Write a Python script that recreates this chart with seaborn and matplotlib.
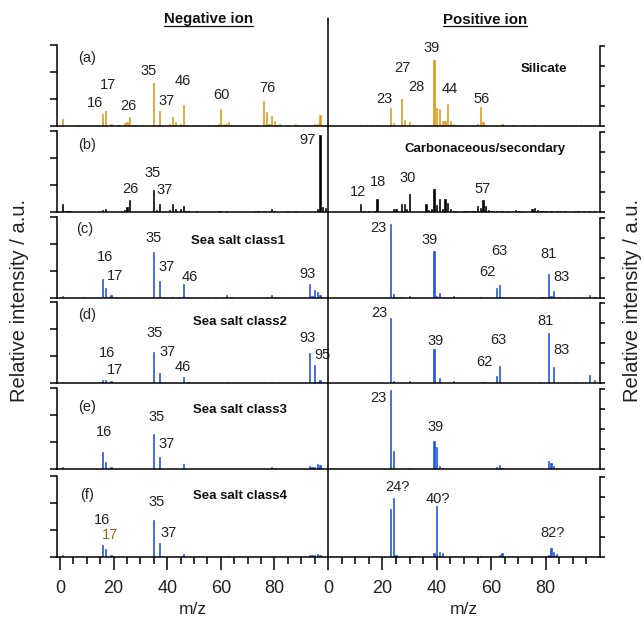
import numpy as np
import pandas as pd
import matplotlib
matplotlib.use("Agg")
import matplotlib.pyplot as plt
import seaborn as sns
from matplotlib.lines import Line2D
from matplotlib.ticker import FixedLocator

sns.set_theme(style="white")
plt.rcParams['font.family'] = ['Liberation Sans', 'DejaVu Sans']

# ---------------- data (relative intensity, a.u.) ----------------
neg_a_mz = [1, 6, 7, 8, 13, 14, 16, 17, 19, 22, 24, 25, 26, 27, 28, 29, 31, 35, 36, 37, 41, 42, 43, 45, 46, 47, 48, 50, 55,
            58, 59, 60, 61, 62, 63, 64, 66, 67, 68, 70, 72, 73, 74, 76, 77, 78, 79, 80, 81, 82, 85, 88, 89, 91, 93, 95, 96, 97, 98, 99]
neg_a_int = [7, 1, 1, 1, 0.8, 1, 11.7, 15.3, 2, 1, 3, 4, 9.3, 1, 1, 1, 1, 43.3, 1.2, 15, 2, 8.7, 4, 2, 21, 1, 1, 0.8, 0.8,
             1, 2, 17, 2, 2, 4, 1, 0.8, 0.8, 0.8, 0.8, 1, 1, 1, 25.3, 14, 2, 10, 5.3, 1, 2, 0.8, 1.5, 1, 0.8, 0.8, 2, 2, 11, 1, 1]
pos_a_mz = [12, 14, 16, 18, 23, 24, 27, 28, 30, 31, 36, 39, 40, 41, 42, 43, 44, 45, 46, 48, 55, 56, 57, 58, 62, 64, 68, 72,
            75, 76, 80, 82, 84, 86, 87, 88, 90, 91, 93, 95, 97, 99]
pos_a_int = [0.8, 0.8, 0.8, 0.8, 18.3, 3, 27, 6, 4, 1, 1, 66, 17.7, 17, 5, 5, 21.7, 5, 2, 1, 1.5, 19.3, 4, 1, 0.8, 1.5, 0.8, 0.8,
             0.8, 0.8, 0.8, 0.8, 0.8, 0.8, 0.8, 0.8, 0.8, 0.8, 0.8, 0.8, 0.8, 0.8]

neg_b_mz = [1, 2, 3, 4, 16, 17, 24, 25, 26, 35, 36, 37, 41, 42, 43, 45, 46, 47, 48, 51, 59, 60, 62, 73, 74, 76, 79, 80, 85, 88, 96, 97, 98, 99]
neg_b_int = [8.3, 1.5, 1, 1, 2, 3, 2, 5, 11.7, 22.3, 2, 7.7, 2, 8.3, 3, 3, 6.3, 1, 1, 0.8, 1.5, 1, 0.8, 1.5, 1, 1.5, 3.5, 1.5, 1, 1, 3, 76.7, 5, 4]
pos_b_mz = [12, 13, 15, 17, 18, 24, 25, 27, 28, 29, 30, 36, 37, 38, 39, 40, 41, 42, 43, 44, 45, 46, 47, 50, 51, 52, 53, 54, 55,
            56, 57, 58, 59, 60, 62, 64, 66, 69, 70, 71, 75, 76, 77, 78, 79, 80, 82, 84, 85, 87, 91, 92, 94, 96, 98]
pos_b_int = [7.7, 1.5, 1, 1, 12.7, 3, 3, 8.3, 8.3, 3, 18.3, 7.7, 2.5, 3, 22.7, 7, 12.7, 3, 13.3, 9.3, 3, 1, 1, 1, 1.5, 1.5, 1.5, 1.5, 6,
             4, 11.7, 6, 2, 1, 1, 1, 1, 2, 1.5, 1, 3.5, 4, 2.5, 1.5, 1, 1, 1, 1, 1, 1, 1, 1, 1, 1, 1]

neg_c_mz = [1, 9, 16, 17, 19, 35, 37, 42, 46, 58, 62, 64, 79, 80, 93, 94, 95, 96, 97]
neg_c_int = [2, 1, 18.7, 10.3, 3, 46, 16.7, 1, 14, 1, 3.5, 1, 3.5, 1, 13.7, 2, 8, 6, 3]
pos_c_mz = [23, 24, 25, 27, 30, 39, 40, 41, 46, 56, 62, 63, 78, 79, 81, 82, 83, 88, 96, 98]
pos_c_int = [74.3, 4.3, 1, 0.8, 2, 46.7, 2, 4.7, 2, 0.8, 10, 13.3, 1, 1, 23.7, 2, 6.7, 0.8, 3, 1]

neg_d_mz = [1, 16, 17, 19, 35, 37, 46, 48, 62, 79, 93, 95, 96, 97]
neg_d_int = [1.5, 3, 3, 2, 30.7, 10, 6.3, 1, 1.5, 1.5, 30, 18.3, 1, 3]
pos_d_mz = [23, 24, 30, 39, 41, 46, 57, 58, 62, 63, 78, 81, 83, 91, 96, 98]
pos_d_int = [65, 2.5, 2.5, 34, 5.3, 2.5, 0.8, 0.8, 6.7, 16.7, 1, 49.7, 16, 1, 8, 3]

neg_e_mz = [1, 16, 17, 19, 35, 37, 46, 79, 80, 93, 94, 95, 96, 97]
neg_e_int = [2, 17.3, 7.3, 2.5, 35, 12.3, 5, 2, 1, 3, 2, 2.3, 5, 4]
pos_e_mz = [23, 24, 30, 39, 40, 41, 42, 62, 63, 64, 81, 82, 83, 84]
pos_e_int = [79, 18, 1, 28.3, 22.3, 2.7, 1, 2, 4, 1.5, 8, 6.3, 2.7, 1]

neg_f_mz = [1, 16, 17, 19, 35, 37, 46, 63, 79, 93, 94, 95, 96, 97]
neg_f_int = [2.5, 11.7, 8.3, 2, 36.7, 14.3, 3.5, 0.8, 1.5, 2.5, 2, 2.5, 3.5, 2.5]
pos_f_mz = [23, 24, 25, 31, 39, 40, 41, 42, 56, 63, 64, 81, 82, 83, 84, 99]
pos_f_int = [47.7, 59.3, 2.5, 1.5, 4, 50.7, 4.7, 4, 1.5, 2.5, 4, 2.5, 9.3, 5, 3, 0.8]

panel_tags = ["(a)", "(b)", "(c)", "(d)", "(e)", "(f)"]
class_names = ["Silicate", "Carbonaceous/secondary", "Sea salt class1", "Sea salt class2", "Sea salt class3", "Sea salt class4"]
x_ticks = [0, 20, 40, 60, 80]

neg_series = [(neg_a_mz, neg_a_int), (neg_b_mz, neg_b_int), (neg_c_mz, neg_c_int),
              (neg_d_mz, neg_d_int), (neg_e_mz, neg_e_int), (neg_f_mz, neg_f_int)]
pos_series = [(pos_a_mz, pos_a_int), (pos_b_mz, pos_b_int), (pos_c_mz, pos_c_int),
              (pos_d_mz, pos_d_int), (pos_e_mz, pos_e_int), (pos_f_mz, pos_f_int)]

# peak labels: (text, x, y) in data coords
neg_labels = [
    [("16", 13.1, 23), ("17", 17.9, 41), ("26", 25.7, 20), ("35", 33.2, 55), ("37", 39.9, 25),
     ("46", 45.9, 45), ("60", 60.4, 31), ("76", 77.2, 38)],
    [("26", 26.1, 23), ("35", 34.7, 39), ("37", 39.2, 22), ("97", 92.5, 72)],
    [("16", 16.8, 41), ("17", 20.5, 22), ("35", 35.1, 60), ("37", 39.6, 31), ("46", 48.5, 21), ("93", 92.5, 24)],
    [("16", 17.5, 30), ("17", 20.5, 13), ("35", 35.4, 50), ("37", 40.3, 31), ("46", 45.9, 16),
     ("93", 92.5, 45), ("95", 97.8, 28)],
    [("16", 16.4, 37), ("35", 36.2, 52), ("37", 39.9, 25)],
    [("16", 15.7, 37), ("17", 18.7, 22), ("35", 36.2, 55), ("37", 40.7, 24)],
]
pos_labels = [
    [("23", 20.6, 27), ("27", 27.2, 58), ("28", 32.4, 39), ("39", 38.2, 78), ("44", 44.9, 37), ("56", 56.3, 27)],
    [("12", 11.0, 20), ("18", 18.4, 30), ("30", 29.4, 34), ("57", 57.0, 23)],
    [("23", 18.4, 70), ("39", 37.5, 58), ("62", 58.5, 26), ("63", 62.9, 47), ("81", 80.9, 44), ("83", 86.0, 21)],
    [("23", 18.8, 70), ("39", 39.7, 42), ("62", 57.4, 21), ("63", 62.5, 43), ("81", 80.1, 62), ("83", 85.7, 33)],
    [("23", 18.4, 71), ("39", 39.7, 42)],
    [("24?", 25.7, 70), ("40?", 40.4, 58), ("82?", 82.7, 24)],
]
class_pos = [("pos", 79.4, 57), ("pos", 57.7, 63), ("neg", 66.4, 57), ("neg", 67.2, 61), ("neg", 67.2, 59), ("neg", 67.2, 61)]
tag_pos = [(10, 68), (10, 67), (9.3, 69), (10, 68), (10, 62), (10, 62)]

colors = ["#DD9A1C", "#000000", "#2152E3", "#2152E3", "#2152E3", "#2152E3"]

# ---------------- layout ----------------
W, H = 644, 624
fig = plt.figure(figsize=(W / 100, H / 100), dpi=100)


def fx(px):
    return px / W


def fy(py):
    return 1 - py / H


baselines = [126, 212, 298, 383, 469, 557]
row_h = 86.2
xl0, xdiv, xr1 = 57.3, 328, 600
lw = 1.1
lab_fs = 10.5

for i in range(6):
    b = baselines[i]
    axL = fig.add_axes([fx(xl0), fy(b), (xdiv - xl0) / W, row_h / H])
    axR = fig.add_axes([fx(xdiv), fy(b), (xr1 - xdiv) / W, row_h / H])
    for ax, (mz, inten), side in ((axL, neg_series[i], "L"), (axR, pos_series[i], "R")):
        df = pd.DataFrame({"mz": mz, "intensity": inten})
        sns.barplot(data=df, x="mz", y="intensity", native_scale=True, orient="x", width=0.45,
                    color=colors[i], saturation=1, linewidth=0.45, edgecolor=colors[i],
                    errorbar=None, ax=ax)
        ax.set_ylim(0, row_h)
        ax.set_xlabel("")
        ax.set_ylabel("")
        ax.patch.set_alpha(0)
        for s in ax.spines.values():
            s.set_visible(False)
            s.set_linewidth(lw)
            s.set_color("black")
        ax.spines["bottom"].set_visible(True)
        if side == "L":
            ax.set_xlim(-1, 100)
            ax.spines["left"].set_visible(True)
            ax.spines["left"].set_bounds(0, 81)
            ax.yaxis.set_major_locator(FixedLocator([0, 27, 54, 81]))
            ax.tick_params(axis="y", which="major", left=True, right=False, direction="out",
                           length=5, width=lw, color="black", labelleft=False, labelright=False)
        else:
            ax.set_xlim(0, 100)
            ax.spines["right"].set_visible(True)
            ax.spines["right"].set_bounds(0, 80)
            ax.yaxis.set_major_locator(FixedLocator([0, 20, 40, 60, 80]))
            ax.tick_params(axis="y", which="major", left=False, right=True, direction="out",
                           length=3.5, width=lw, color="black", labelleft=False, labelright=False)
        ax.xaxis.set_major_locator(FixedLocator(x_ticks))
        ax.xaxis.set_minor_locator(FixedLocator([m for m in range(5, 100, 5) if m % 20 != 0]))
        if i < 5:
            ax.tick_params(axis="x", which="both", length=0, labelbottom=False)
        else:
            ax.set_xticklabels([str(t) for t in x_ticks])
            ax.tick_params(axis="x", which="major", bottom=True, direction="out", length=9.5, width=lw,
                           color="black", labelsize=13, pad=7, labelcolor="#222222")
            ax.tick_params(axis="x", which="minor", bottom=True, direction="out", length=4.8, width=lw,
                           color="black")
            ax.set_xlabel("m/z", fontsize=12.5, labelpad=4, color="#222222")

    # labels
    for t, x, y in neg_labels[i]:
        col = "#222222"
        if i == 5 and t == "17":
            col = "#9C6A1E"
        axL.text(x, y, t, ha="center", va="center", fontsize=lab_fs, color=col)
    for t, x, y in pos_labels[i]:
        axR.text(x, y, t, ha="center", va="center", fontsize=lab_fs, color="#222222")
    tx, ty = tag_pos[i]
    axL.text(tx, ty, panel_tags[i], ha="center", va="center", fontsize=lab_fs, color="#222222")
    side, cx, cy = class_pos[i]
    (axR if side == "pos" else axL).text(cx, cy, class_names[i], ha="center", va="center",
                                         fontsize=9.5, fontweight="bold", color="#111111")

# column divider
fig.add_artist(Line2D([fx(xdiv), fx(xdiv)], [fy(18), fy(557)], color="black", lw=lw))

# titles with underline
titles = [("Negative ion", 208), ("Positive ion", 485)]
tobjs = []
for t, xc in titles:
    tobjs.append(fig.text(fx(xc), fy(23.5), t, ha="center", va="baseline", fontsize=10.8,
                          fontweight="bold", color="#111111"))
fig.canvas.draw()
r = fig.canvas.get_renderer()
for tobj in tobjs:
    bb = tobj.get_window_extent(renderer=r)
    fig.add_artist(Line2D([bb.x0 / W, bb.x1 / W], [fy(26), fy(26)], color="#111111", lw=0.9))

# y labels
fig.text(fx(20), fy(300), "Relative intensity / a.u.", rotation=90, ha="center", va="center",
         fontsize=14.5, color="#222222")
fig.text(fx(632), fy(300), "Relative intensity / a.u.", rotation=90, ha="center", va="center",
         fontsize=14.5, color="#222222")

fig.savefig("out.png", dpi=100)
